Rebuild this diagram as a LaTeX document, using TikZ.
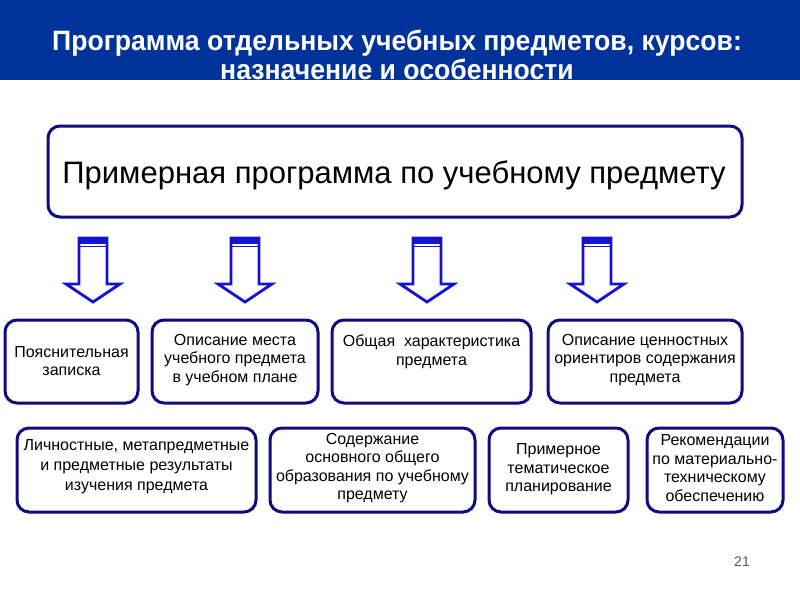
\documentclass[tikz,border=0pt]{standalone}
\usepackage{fontspec}
\setmainfont{Liberation Sans}
\newfontfamily\titlefont[FakeStretch=0.95]{Liberation Sans}
\newlength{\du}
\setlength{\du}{1pt}
\definecolor{bannerblue}{rgb}{0.000000, 0.200000, 0.600000}
\definecolor{boxnavy}{rgb}{0.050000, 0.050000, 0.500000}
\definecolor{arrowblue}{rgb}{0.080000, 0.080000, 0.800000}
\tikzset{
  framebox/.style={draw=boxnavy, line width=3\du, rounded corners=12\du, fill=white, inner sep=0pt},
  boxtext/.style={align=center, inner sep=0pt, text=black, font=\fontsize{16}{18.5}\selectfont},
  arrowline/.style={draw=arrowblue, line width=2.8\du, fill=white, miter limit=4},
}
\begin{document}
\begin{tikzpicture}
\pgftransformxscale{1.000000}
\pgftransformyscale{-1.000000}
\useasboundingbox (0\du,0\du) rectangle (800\du,600\du);
\fill[bannerblue] (0\du,0\du) rectangle (800\du,80\du);
% setfont left to latex
\node[align=center, text=white, inner sep=0pt, font=\titlefont\bfseries\fontsize{28}{29}\selectfont] (title) at (397\du,55\du)
  {Программа отдельных учебных предметов, курсов:\\назначение и особенности};
\node[framebox, minimum width=694\du, minimum height=91\du] (primer) at (395\du,171.5\du){};
\node[text=black, font=\fontsize{31}{34}\selectfont] (primertext) at (394\du,175\du){Примерная программа по учебному предмету};
% arrows
\foreach \cx in {93,245,427,597}{
  \pgfmathsetmacro{\xa}{\cx-27}
  \pgfmathsetmacro{\xb}{\cx-14}
  \pgfmathsetmacro{\xc}{\cx+14}
  \pgfmathsetmacro{\xd}{\cx+27}
  \draw[arrowline] (\xb\du,238\du)--(\xb\du,284\du)--(\xa\du,284\du)--(\cx\du,302\du)--(\xd\du,284\du)--(\xc\du,284\du)--(\xc\du,238\du)--cycle;
  \fill[arrowblue] (\xb\du,237\du) rectangle (\xc\du,243.5\du);
  \draw[arrowblue, line width=1.5\du] (\xb\du,246.5\du)--(\xc\du,246.5\du);
}
% second row
\node[framebox, minimum width=133\du, minimum height=83\du] (zapiska) at (71.5\du,361.5\du){};
\node[boxtext] (zapiskatext) at (71.5\du,361\du){Пояснительная\\записка};
\node[framebox, minimum width=166\du, minimum height=83\du] (mesto) at (235\du,361.5\du){};
\node[boxtext] (mestotext) at (235\du,360\du){Описание места\\учебного предмета\\в учебном плане};
\node[framebox, minimum width=199\du, minimum height=83\du] (harakt) at (431.5\du,361.5\du){};
\node[boxtext] (harakttext) at (431.5\du,352\du){Общая\ \ характеристика\\предмета};
\node[framebox, minimum width=194\du, minimum height=83\du] (cennost) at (645\du,361.5\du){};
\node[boxtext] (cennosttext) at (645\du,360\du){Описание ценностных\\ориентиров содержания\\предмета};
% third row
\node[framebox, minimum width=239\du, minimum height=84\du] (rezult) at (136.5\du,470\du){};
\node[boxtext, font=\fontsize{16}{20}\selectfont] (rezulttext) at (136.5\du,467\du){Личностные, метапредметные\\и предметные результаты\\изучения предмета};
\node[framebox, minimum width=205\du, minimum height=84\du] (soderzh) at (372.5\du,470\du){};
\node[boxtext] (soderzhtext) at (372.5\du,468\du){Содержание\\основного общего\\образования по учебному\\предмету};
\node[framebox, minimum width=139\du, minimum height=84\du] (plan) at (558.5\du,470\du){};
\node[boxtext] (plantext) at (558.5\du,469.5\du){Примерное\\тематическое\\планирование};
\node[framebox, minimum width=136\du, minimum height=84\du] (rekom) at (715\du,470\du){};
\node[boxtext] (rekomtext) at (715\du,468\du){Рекомендации\\по материально-\\техническому\\обеспечению};
% setfont left to latex
\node[text=black!65, font=\fontsize{14}{16}\selectfont] (pagenum) at (742\du,562\du){21};
\end{tikzpicture}
\end{document}
